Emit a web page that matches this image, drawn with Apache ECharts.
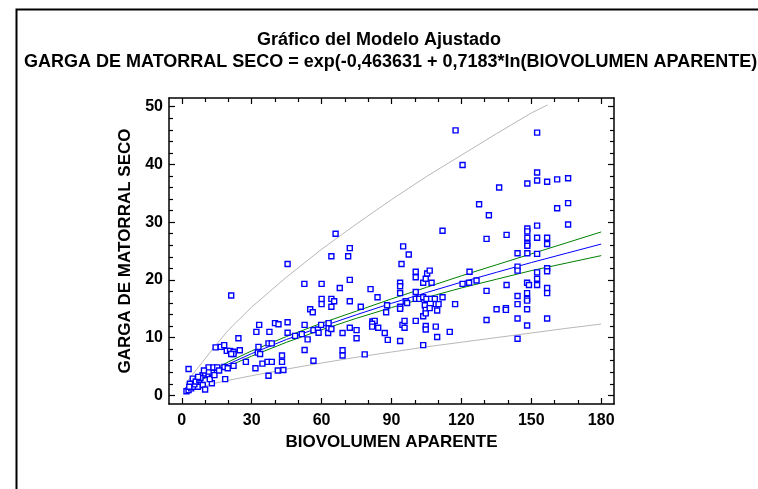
<!DOCTYPE html>
<html>
<head>
<meta charset="utf-8">
<script src="https://cdn.jsdelivr.net/npm/echarts@6/dist/echarts.min.js"></script>
<style>
  html, body { margin: 0; padding: 0; background: #fff; }
  #chart { width: 758px; height: 489px; }
</style>
</head>
<body>
<div id="chart"></div>
<script>
// observed points: BIOVOLUMEN APARENTE (x) / GARGA DE MATORRAL SECO (y)
const biovolumen = [
  2, 2.9, 4, 5, 6.9, 5.4, 9, 10, 12.9, 4.7, 18.6, 2.9, 8.9, 10, 11.5, 12.9, 11.5, 11.5, 13.6, 15.2,
  18.3, 19.7, 22.2, 14.5, 16.7, 18.2, 19.3, 20.7, 22.2, 22.2, 21.2, 24.9, 24.3, 21.2, 27.5, 32.9, 32.6, 33.6, 32, 33.2,
  34.6, 36.8, 38.6, 37.2, 41.2, 43.6, 31.6, 37.2, 38.6, 37.6, 40, 41.5, 43, 43, 45.4, 45.4, 45.4, 48.6, 51.5, 52.7,
  52.6, 54, 52.7, 56.5, 55.1, 56.2, 56.5, 58.4, 59.8, 58.7, 60, 60, 60, 63, 63, 62.8, 64.2, 64.2, 65.4, 64.2,
  64.2, 66, 67.8, 69, 69, 69, 71.4, 72.1, 72.1, 72.1, 72.1, 75, 75, 76.8, 78.5, 81, 81.8, 82.8, 81.7, 81.7,
  84.3, 84, 87.1, 88.1, 87.7, 88.4, 93.7, 93.7, 93.7, 93.7, 93.7, 93.7, 94.3, 95, 97.4, 94.7, 95.6, 95.6, 96.1, 96.7,
  100.4, 100.4, 100.4, 100.4, 100.4, 101.9, 103.6, 103.6, 103.6, 103.6, 104.7, 104.3, 104.7, 104.7, 104.7, 104.7, 105, 105.3, 106.4, 106.4,
  107, 107.2, 108.6, 109, 110.2, 109.6, 109, 109.6, 111.9, 111.9, 115, 117.3,
  117.5, 120.5, 152.5, 152.5, 148.3, 152.5, 156.8, 161.1, 165.8, 136.2, 127.6, 131.8, 161.1, 165.8, 165.8, 152.5, 130.8, 139.4, 148.3, 148.3,
  148.3, 152.5, 156.8, 156.8, 148.3, 148.3, 144.1, 148.3, 152.5, 123.5, 144.1, 144.1, 156.8, 156.8, 152.5, 120.5, 123.3, 126.5, 152.5, 152.5,
  139.4, 148.2, 149, 130.8, 156.8, 156.8, 148.2, 144.1, 148.2, 148.2, 144.1, 135.1, 139.1, 139.1, 148.2, 130.8, 144.1, 156.8, 148.2, 144.1,
  3.5, 6, 7.5, 8, 3.2, 12, 14, 16, 9.5, 7
]
const garga = [
  0.7, 0.9, 1.2, 1.5, 1.5, 1.9, 1.8, 1.0, 2.1, 2.9, 2.8, 4.55, 3.5, 3.8, 3.5, 3.9, 4.1, 4.85, 4.85, 4.85,
  4.9, 4.7, 5.1, 8.3, 8.4, 8.7, 7.7, 7.7, 7.55, 7.15, 7.15, 7.8, 9.9, 17.3, 5.8, 8.4, 7.4, 7.15, 11.0, 12.2,
  5.5, 5.8, 5.8, 3.4, 4.3, 4.4, 4.7, 9.0, 9.0, 11.0, 12.5, 12.3, 5.8, 6.9, 12.65, 10.85, 22.75, 10.3, 10.6, 12.2,
  19.3, 9.7, 7.85, 6.0, 14.9, 14.4, 11.3, 11.4, 12.2, 10.85, 19.3, 16.7, 15.8, 12.5, 11.6, 10.8, 11.5, 16.7, 16.3, 15.35,
  24.1, 28.0, 18.6, 10.8, 7.8, 6.9, 24.1, 25.5, 20.0, 16.3, 11.7, 11.3, 9.9, 15.35, 7.1, 18.4, 12.8, 12.9, 12.4, 11.9,
  11.7, 17.0, 10.8, 15.6, 14.4, 9.6, 9.4, 15.35, 15.0, 17.7, 19.5, 18.9, 22.75, 25.8, 24.4, 12.2, 11.7, 12.9, 16.3, 16.0,
  21.4, 20.45, 17.9, 16.7, 12.9, 16.7, 17.0, 19.5, 13.7, 8.7, 20.2, 15.6, 14.8, 14.2, 12.0, 11.4, 16.7, 21.1, 21.6, 15.1,
  16.7, 19.5, 16.7, 15.8, 15.8, 14.7, 11.9, 10.1, 17.0, 28.5, 11.0, 15.8,
  45.9, 39.9, 45.5, 38.6, 36.7, 37.2, 37.0, 37.4, 37.6, 36.0, 33.1, 31.2, 32.4, 33.3, 29.6, 29.4, 27.1, 27.8, 28.9, 28.4,
  27.3, 27.3, 27.3, 26.2, 26.3, 25.9, 24.6, 24.6, 24.5, 21.4, 22.3, 21.6, 22.0, 21.5, 21.3, 19.3, 19.5, 19.9, 20.2, 19.1,
  19.1, 19.5, 19.1, 18.1, 18.6, 17.7, 17.7, 17.2, 16.7, 16.4, 15.8, 14.9, 15.1, 14.8, 14.9, 13.05, 13.3, 13.3, 12.1, 9.8,
  2.0, 2.4, 2.7, 3.0, 1.5, 2.8, 3.5, 4.3, 4.3, 3.2
]

// fitted curve and 95% limits
const fitX = [1.7, 5, 8, 13, 20, 30, 45, 60, 75, 90, 105, 120, 135, 150, 165, 180]
const fitY = [0.92, 2.0, 2.8, 3.97, 5.41, 7.24, 9.69, 11.9, 13.97, 15.94, 17.8, 19.6, 21.3, 23.0, 24.6, 26.2]
const confUpper = [1.1, 2.2, 3.05, 4.3, 5.8, 7.7, 10.2, 12.5, 14.6, 16.7, 18.7, 20.7, 22.6, 24.5, 26.4, 28.3]
const confLower = [0.77, 1.82, 2.57, 3.65, 5.05, 6.8, 9.2, 11.35, 13.35, 15.2, 16.95, 18.6, 20.1, 21.6, 22.9, 24.2]
const predUpX = [1.7, 14, 20, 30, 45, 60, 75, 90, 105, 120, 135, 150, 157]
const predUpper = [2.1, 8.4, 11.3, 15.3, 20.5, 25.3, 29.7, 33.9, 37.9, 41.6, 45.3, 48.9, 50.3]
const predLoX = [1.7, 13, 20, 30, 45, 60, 75, 90, 105, 120, 135, 150, 165, 180]
const predLower = [0.5, 2.0, 2.6, 3.4, 4.55, 5.6, 6.6, 7.5, 8.4, 9.2, 10.0, 10.8, 11.6, 12.35]

const xMajor = [0, 30, 60, 90, 120, 150, 180]
const xMinor = [10, 20, 40, 50, 70, 80, 100, 110, 130, 140, 160, 170]
const yMajor = [0, 10, 20, 30, 40, 50]
const yMinor = [2, 4, 6, 8, 12, 14, 16, 18, 22, 24, 26, 28, 32, 34, 36, 38, 42, 44, 46, 48]

const pairs = (xs, ys) => xs.map((x, i) => [x, ys[i]])

const font = 'Liberation Sans, Arial, sans-serif'
const X_MIN = -5.5, X_MAX = 185.5, Y_MIN = -1.5, Y_MAX = 51.5

function xAxisDef(pos, ticks, len, labels, line) {
  return {
    type: 'value', position: pos, min: X_MIN, max: X_MAX,
    axisLine: { show: line, onZero: false, lineStyle: { color: '#000', width: 1.5 } },
    axisTick: { show: true, inside: true, length: len, customValues: ticks, lineStyle: { color: '#000', width: 1.2 } },
    axisLabel: labels
      ? { show: true, customValues: ticks, color: '#000', fontFamily: font, fontWeight: 'bold', fontSize: 16, margin: 9 }
      : { show: false },
    splitLine: { show: false },
    name: labels ? 'BIOVOLUMEN APARENTE' : '',
    nameLocation: 'middle', nameGap: 30,
    nameTextStyle: { color: '#000', fontFamily: font, fontWeight: 'bold', fontSize: 17 }
  }
}

function yAxisDef(pos, ticks, len, labels, line) {
  return {
    type: 'value', position: pos, min: Y_MIN, max: Y_MAX,
    axisLine: { show: line, onZero: false, lineStyle: { color: '#000', width: 1.5 } },
    axisTick: { show: true, inside: true, length: len, customValues: ticks, lineStyle: { color: '#000', width: 1.2 } },
    axisLabel: labels
      ? { show: true, customValues: ticks, color: '#000', fontFamily: font, fontWeight: 'bold', fontSize: 16, margin: 6 }
      : { show: false },
    splitLine: { show: false },
    name: labels ? 'GARGA DE MATORRAL SECO' : '',
    nameLocation: 'middle', nameGap: 32,
    nameTextStyle: { color: '#000', fontFamily: font, fontWeight: 'bold', fontSize: 17 }
  }
}

const chart = echarts.init(document.getElementById('chart'), null, { renderer: 'canvas' })

const lineBase = { type: 'line', showSymbol: false, symbol: 'none', silent: true, smooth: false, z: 2 }

chart.setOption({
  backgroundColor: '#fff',
  animation: false,
  title: [
    {
      text: 'Gráfico del Modelo Ajustado', left: 'center', top: 25,
      textStyle: { color: '#000', fontFamily: font, fontWeight: 'bold', fontSize: 18, lineHeight: 20 }
    },
    {
      text: 'GARGA DE MATORRAL SECO = exp(-0,463631 + 0,7183*ln(BIOVOLUMEN APARENTE)', left: 19, top: 47,
      textStyle: { color: '#000', fontFamily: font, fontWeight: 'bold', fontSize: 18, lineHeight: 20 }
    }
  ],
  graphic: [{
    type: 'rect', left: 14, top: 7, z: 100, silent: true,
    shape: { width: 800, height: 600 },
    style: { fill: 'none', stroke: '#000', lineWidth: 2 }
  }],
  grid: { left: 169, right: 144, top: 98, bottom: 85, containLabel: false },
  xAxis: [
    xAxisDef('bottom', xMajor, 6, true, true),
    xAxisDef('bottom', xMinor, 4, false, false),
    xAxisDef('top', xMajor, 6, false, true),
    xAxisDef('top', xMinor, 4, false, false)
  ],
  yAxis: [
    yAxisDef('left', yMajor, 6, true, true),
    yAxisDef('left', yMinor, 4, false, false),
    yAxisDef('right', yMajor, 6, false, true),
    yAxisDef('right', yMinor, 4, false, false)
  ],
  series: [
    { ...lineBase, data: pairs(predUpX, predUpper), lineStyle: { color: '#b8b8b8', width: 1 } },
    { ...lineBase, data: pairs(predLoX, predLower), lineStyle: { color: '#b8b8b8', width: 1 } },
    { ...lineBase, data: pairs(fitX, confUpper), lineStyle: { color: '#008000', width: 1 } },
    { ...lineBase, data: pairs(fitX, confLower), lineStyle: { color: '#008000', width: 1 } },
    { ...lineBase, data: pairs(fitX, fitY), lineStyle: { color: '#0000ff', width: 1 } },
    {
      type: 'scatter', data: pairs(biovolumen, garga), z: 3,
      symbol: 'rect', symbolSize: 5,
      itemStyle: { color: '#ffffff', borderColor: '#0000ff', borderWidth: 1.4, opacity: 1 }
    }
  ]
})
</script>
</body>
</html>
